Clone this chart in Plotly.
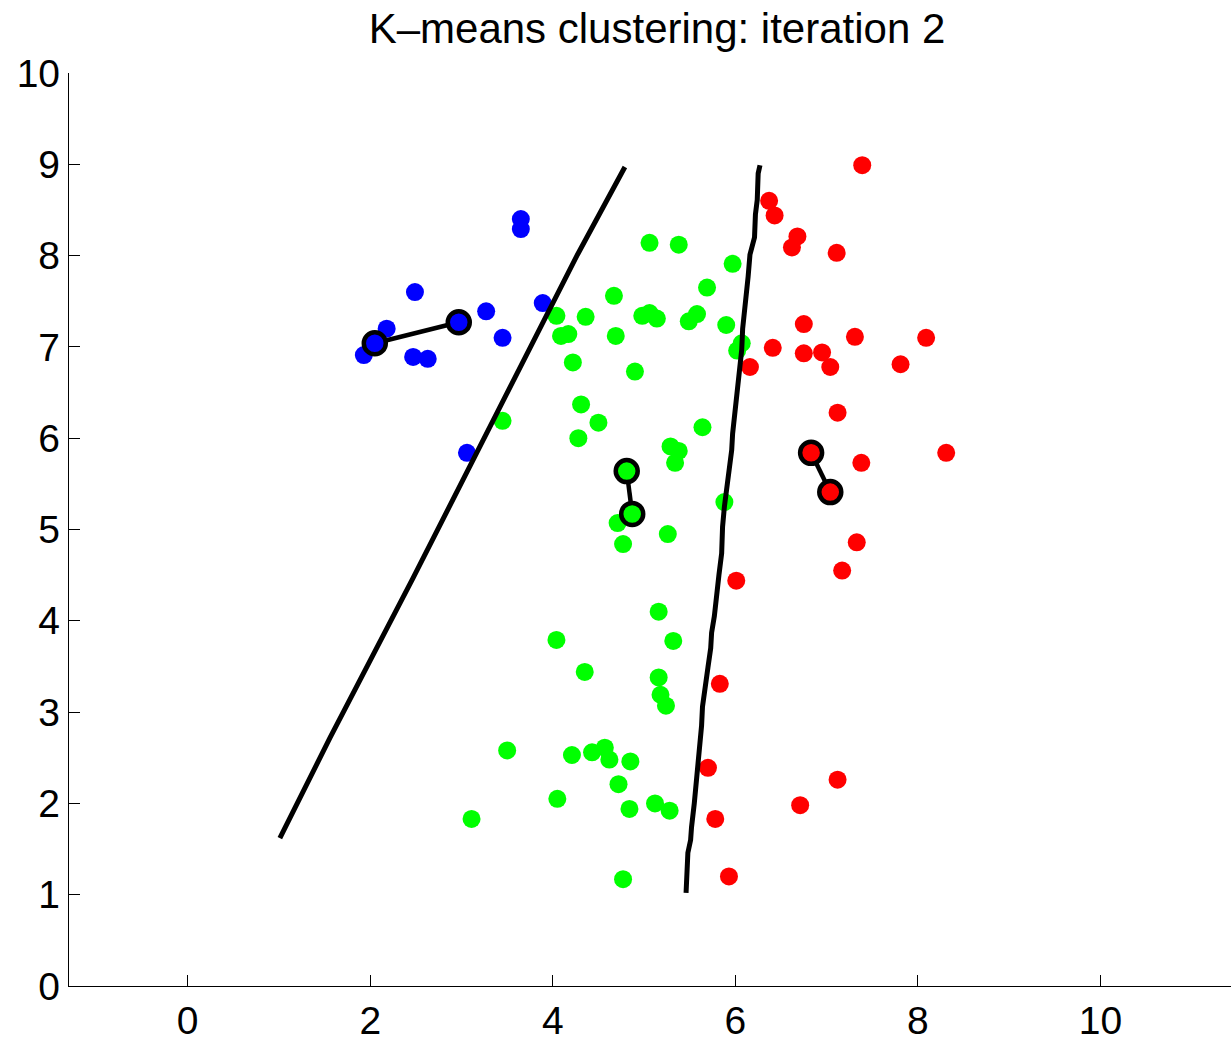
import plotly.graph_objects as go

# ---- data ----
blue_x = [1.93, 2.18, 2.49, 2.47, 2.63, 3.27, 3.45, 3.65, 3.65, 3.89, 3.06]
blue_y = [6.91, 7.20, 7.60, 6.89, 6.87, 7.39, 7.10, 8.40, 8.29, 7.48, 5.84]

green_x = [5.06, 5.38, 5.97, 5.69, 4.67, 4.04, 4.36, 4.98, 5.06, 5.14, 5.49, 5.58, 5.90,
           6.07, 6.02, 4.09, 4.17, 4.69, 4.22, 4.90, 4.31, 4.50, 4.28, 3.45, 5.64, 5.29,
           5.38, 5.34, 4.71, 4.77, 5.26, 5.88, 5.16, 4.04, 5.32, 4.35, 5.16, 5.18, 5.24,
           3.50, 4.21, 4.43, 4.57, 4.62, 4.85, 4.72, 4.05, 4.84, 5.12, 5.28, 3.11, 4.77]
green_y = [8.14, 8.12, 7.91, 7.65, 7.56, 7.34, 7.33, 7.34, 7.37, 7.31, 7.28, 7.36, 7.24,
           7.04, 6.96, 7.12, 7.14, 7.12, 6.83, 6.73, 6.37, 6.17, 6.00, 6.19, 6.12, 5.91,
           5.86, 5.73, 5.07, 4.84, 4.95, 5.30, 4.10, 3.79, 3.78, 3.44, 3.38, 3.19, 3.07,
           2.58, 2.53, 2.56, 2.61, 2.48, 2.46, 2.21, 2.05, 1.94, 2.00, 1.92, 1.83, 1.17]

red_x = [7.39, 6.37, 6.43, 6.68, 6.62, 7.11, 6.75, 7.31, 8.09, 6.41, 6.75, 6.95, 7.04,
         7.81, 6.16, 7.12, 7.38, 8.31, 7.33, 7.17, 6.01, 5.83, 5.70, 7.12, 6.71, 5.78, 5.93]
red_y = [8.99, 8.60, 8.44, 8.21, 8.09, 8.03, 7.25, 7.11, 7.10, 6.99, 6.93, 6.94, 6.78,
         6.81, 6.78, 6.28, 5.73, 5.84, 4.86, 4.55, 4.44, 3.31, 2.39, 2.26, 1.98, 1.83, 1.20]

# centroids: previous and new positions (blue, green, red)
centroid_colors = ["#0000ff", "#00ff00", "#ff0000"]
centroid_prev_x = [2.97, 4.81, 6.83]
centroid_prev_y = [7.27, 5.64, 5.84]
centroid_new_x = [2.05, 4.87, 7.04]
centroid_new_y = [7.04, 5.17, 5.41]

# decision boundaries
boundary1_x = [1.01, 1.56, 2.47, 3.39, 4.27, 4.79]
boundary1_y = [1.62, 2.72, 4.47, 6.28, 8.01, 8.97]
boundary2_x = [6.27, 6.25, 6.24, 6.22, 6.21, 6.18, 6.16, 6.14, 6.12, 6.10, 6.08, 6.07,
               6.05, 6.03, 6.01, 5.99, 5.97, 5.96, 5.93, 5.91, 5.88, 5.86, 5.86, 5.85,
               5.82, 5.80, 5.77, 5.74, 5.73, 5.70, 5.67, 5.64, 5.63, 5.61, 5.59, 5.58,
               5.55, 5.52, 5.51, 5.48, 5.47, 5.46]
boundary2_y = [8.99, 8.90, 8.61, 8.45, 8.20, 8.10, 8.01, 7.77, 7.60, 7.44, 7.20, 6.97,
               6.80, 6.67, 6.45, 6.23, 6.05, 5.87, 5.65, 5.43, 5.25, 5.03, 4.90, 4.74,
               4.50, 4.26, 4.05, 3.87, 3.70, 3.49, 3.30, 3.06, 2.85, 2.62, 2.45, 2.26,
               2.00, 1.74, 1.60, 1.46, 1.25, 1.02]

x_ticks = [0, 2, 4, 6, 8, 10]
y_ticks = [0, 1, 2, 3, 4, 5, 6, 7, 8, 9, 10]

FONT = "Liberation Sans, Arial, Helvetica, sans-serif"

fig = go.Figure()

for xs, ys, c in [(blue_x, blue_y, "#0000ff"), (green_x, green_y, "#00ff00"), (red_x, red_y, "#ff0000")]:
    fig.add_trace(go.Scatter(x=xs, y=ys, mode="markers",
                             marker=dict(size=18, color=c, line=dict(width=0)),
                             hoverinfo="x+y", showlegend=False))

for bx, by in [(boundary1_x, boundary1_y), (boundary2_x, boundary2_y)]:
    fig.add_trace(go.Scatter(x=bx, y=by, mode="lines",
                             line=dict(color="black", width=5),
                             showlegend=False, hoverinfo="skip"))

for i in range(3):
    fig.add_trace(go.Scatter(x=[centroid_prev_x[i], centroid_new_x[i]],
                             y=[centroid_prev_y[i], centroid_new_y[i]],
                             mode="lines+markers",
                             line=dict(color="black", width=4.5),
                             marker=dict(size=22, color=centroid_colors[i],
                                         line=dict(color="black", width=4.5)),
                             showlegend=False))

axis_common = dict(showgrid=False, zeroline=False, showline=True, linecolor="black",
                   linewidth=1.3, ticks="inside", ticklen=11, tickwidth=1.3,
                   tickcolor="black", ticklabelstandoff=0, mirror=False,
                   automargin=False, tickfont=dict(family=FONT, size=39, color="black"))

fig.update_layout(
    width=1231, height=1038,
    margin=dict(l=69, r=0, t=73, b=52, autoexpand=False),
    paper_bgcolor="white", plot_bgcolor="white",
    font=dict(family=FONT, size=39, color="black"),
    title=dict(text="K–means clustering: iteration 2", x=657 / 1231, xanchor="center",
               y=1 - 28 / 1038, yanchor="middle", automargin=False,
               font=dict(family=FONT, size=42, color="black")),
    xaxis=dict(range=[-1.30, 11.43], tickvals=x_ticks, ticktext=[str(v) for v in x_ticks],
               **axis_common),
    yaxis=dict(range=[0, 10], tickvals=y_ticks, ticktext=[str(v) for v in y_ticks],
               **axis_common),
)

fig.write_html("out.html", config={"displayModeBar": False},
               post_script="document.body.style.margin='0';document.body.style.overflow='hidden';")
